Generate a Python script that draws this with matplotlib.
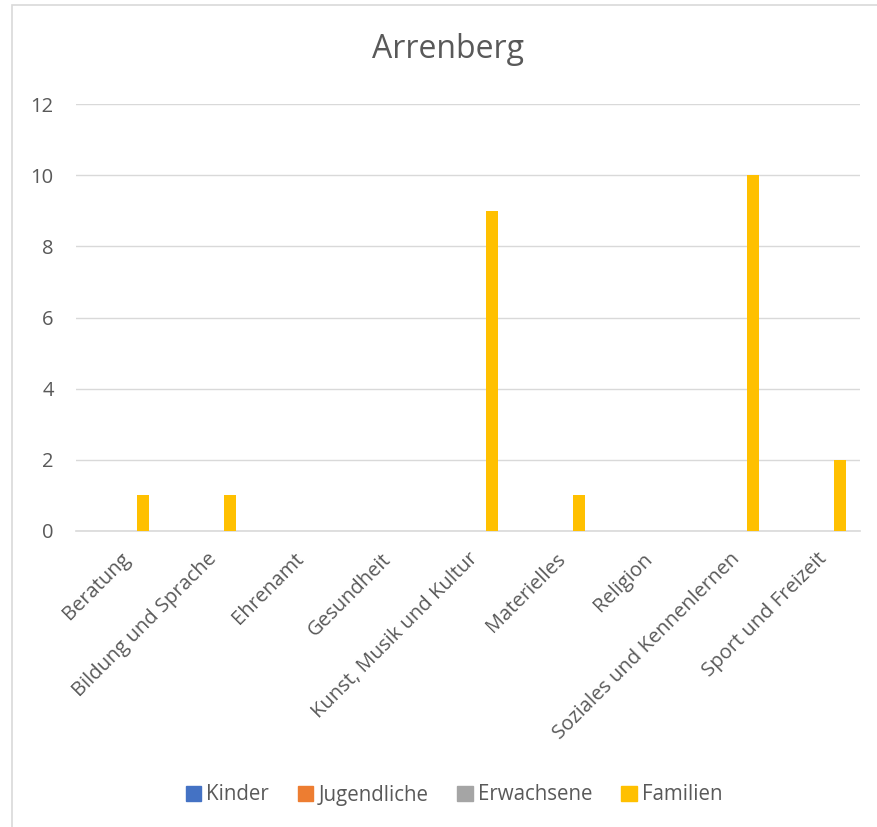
import matplotlib
matplotlib.use("Agg")
import matplotlib.pyplot as plt
import numpy as np
from matplotlib.patches import Rectangle

categories = ["Beratung", "Bildung und Sprache", "Ehrenamt", "Gesundheit",
              "Kunst, Musik und Kultur", "Materielles", "Religion",
              "Soziales und Kennenlernen", "Sport und Freizeit"]
series_names = ["Kinder", "Jugendliche", "Erwachsene", "Familien"]
kinder = [0, 0, 0, 0, 0, 0, 0, 0, 0]
jugendliche = [0, 0, 0, 0, 0, 0, 0, 0, 0]
erwachsene = [0, 0, 0, 0, 0, 0, 0, 0, 0]
familien = [1, 1, 0, 0, 9, 1, 0, 10, 2]
colors = ["#4472C4", "#ED7D31", "#A5A5A5", "#FFC000"]
title = "Arrenberg"
yticks = [0, 2, 4, 6, 8, 10, 12]

plt.rcParams['font.family'] = ['Open Sans', 'DejaVu Sans']
txt = "#595959"
fs = 14.5

W, H = 877, 827
fig = plt.figure(figsize=(W/100, H/100), dpi=100)
fig.patches.append(Rectangle((12/W, -0.01), 1.0, 1 - 5/H + 0.01, transform=fig.transFigure,
                             fill=False, edgecolor="#D9D9D9", linewidth=1.2))

ax = fig.add_axes([76/W, 1 - 531/H, (860-76)/W, (531-104)/H])
x = np.arange(len(categories))
step = 0.182
bw = 0.138
all_series = [kinder, jugendliche, erwachsene, familien]
for j, (vals, name, c) in enumerate(zip(all_series, series_names, colors)):
    ax.bar(x + (j - 1.5) * step, vals, width=bw, color=c, label=name, zorder=3)

ax.set_xlim(-0.5, len(categories) - 0.5)
ax.set_ylim(0, 12)
ax.set_yticks(yticks)
ax.yaxis.grid(True, color="#D9D9D9", linewidth=1.0, zorder=0)
for s in ["top", "right", "left"]:
    ax.spines[s].set_visible(False)
ax.spines["bottom"].set_color("#D9D9D9")
ax.spines["bottom"].set_linewidth(1.2)
ax.tick_params(axis="both", length=0, colors=txt, labelsize=fs)
ax.tick_params(axis="y", pad=16)
ax.set_xticks(x)
ax.set_xticklabels(categories, rotation=45, ha="right", va="top",
                   rotation_mode="anchor", color=txt, fontsize=fs)
ax.tick_params(axis="x", pad=13)

fig.text(0.5 + 13/W/2 + 3/W, 1 - 50/H, title, ha="center", va="center", fontsize=23, color=txt)

handles = [Rectangle((0, 0), 1, 1, color=c) for c in colors]
fig.legend(handles, series_names, loc="center", bbox_to_anchor=(454/W, 1 - 795/H),
           ncol=4, frameon=False, fontsize=14.8, labelcolor=txt,
           handlelength=0.75, handleheight=0.75, handletextpad=0.25, columnspacing=1.4)

fig.savefig("out.png", dpi=100)
